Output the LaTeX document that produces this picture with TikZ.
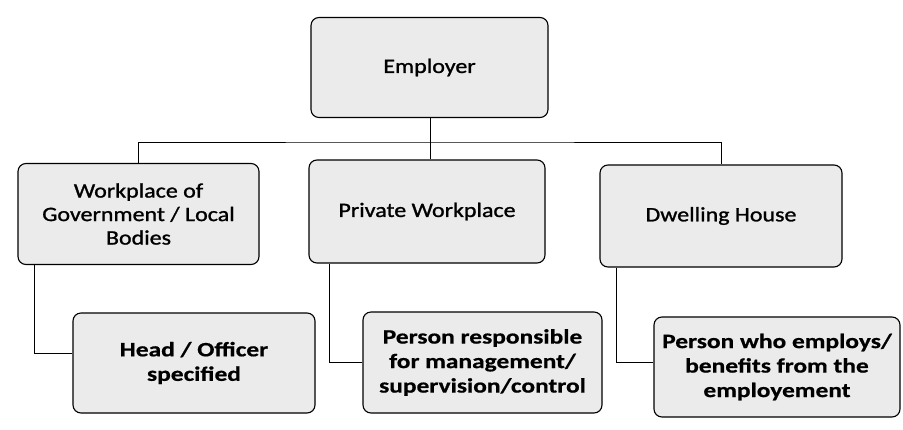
\documentclass[tikz,border=0pt]{standalone}
\usepackage{fontspec}
\setmainfont[FakeStretch=1.17]{Carlito}
\newfontfamily\medfont[FakeStretch=1.17, FakeBold=1.2]{Carlito}
\newfontfamily\heavyfont[FakeStretch=1.24, FakeBold=0.6, BoldFont={Carlito Bold}]{Carlito Bold}
\begin{document}
\begin{tikzpicture}[x=1pt,y=-1pt,
  box/.style={draw=black, line width=1.1pt, rounded corners=8pt, fill=black!8,
    inner sep=0pt, align=center, font=\medfont\fontsize{20.5}{23.5}\selectfont},
  boldbox/.style={box, font=\heavyfont\fontsize{20.5}{24.5}\selectfont},
  conn/.style={draw=black, line width=0.9pt}]
\useasboundingbox (0,0) rectangle (903,429);
\fill[white] (0,0) rectangle (903,429);
\node[box, minimum width=237pt, minimum height=100pt] (emp) at (429.5,67.5) {Employer};
\node[box, minimum width=241pt, minimum height=101pt] (gov) at (138.5,214) {Workplace of\\Government / Local\\Bodies};
\node[box, minimum width=236pt, minimum height=103pt] (priv) at (427,211.5) {Private Workplace};
\node[box, minimum width=242pt, minimum height=102pt] (dwell) at (721,216) {Dwelling House};
\node[boldbox, minimum width=242pt, minimum height=100pt] (head) at (194,363) {Head / Officer\\specified};
\node[boldbox, minimum width=239pt, minimum height=101pt] (resp) at (482.5,362.5) {Person responsible\\for management/\\supervision/control};
\node[boldbox, minimum width=246pt, minimum height=100pt] (emps) at (777,367) {Person who employs/\\benefits from the\\employement};
\coordinate (bus) at (430,142);
\draw[conn] ([xshift=0.5pt]emp.south) -- ([xshift=0.5pt]emp.south |- bus);
\draw[conn] (gov.north) |- (bus) -| (dwell.north);
\draw[conn] ([xshift=3pt]priv.north) -- ([xshift=3pt]priv.north |- bus);
\draw[conn] ([xshift=17pt]gov.south west) |- ([yshift=10pt]head.west);
\draw[conn] ([xshift=21pt]priv.south west) |- (resp.west);
\draw[conn] ([xshift=17pt]dwell.south west) |- ([yshift=5pt]emps.west);
\end{tikzpicture}
\end{document}
